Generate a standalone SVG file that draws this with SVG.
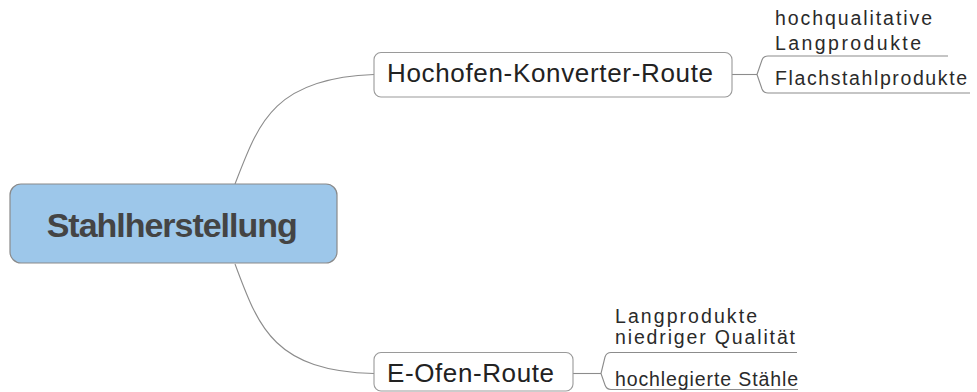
<svg xmlns="http://www.w3.org/2000/svg" width="977" height="392" viewBox="0 0 977 392">
<style>
  .conn { fill: none; stroke: #8c8c8c; stroke-width: 1.1; }
  .route { fill: #ffffff; stroke: #9a9a9a; stroke-width: 1.1; }
  .central { fill: #9dc7ea; stroke: #8a8a8a; stroke-width: 1.2; }
  .t-central { font-family: "Liberation Sans", Arial, sans-serif; font-size: 34px; font-weight: bold; fill: #444444; }
  .t-route { font-family: "Liberation Sans", Arial, sans-serif; font-size: 26px; fill: #222222; }
  .t-leaf { font-family: "Liberation Sans", Arial, sans-serif; font-size: 19.5px; fill: #2a2a2a; }
</style>
<rect width="977" height="392" fill="#ffffff"/>
<g id="connectors">
  <path class="conn" d="M235,184 C258,125 272,78 374,74.5"/>
  <path class="conn" d="M235,264 C258,325 272,371 374,373.5"/>
  <path class="conn" d="M732,74.5 L757,74.5"/>
  <path class="conn" d="M757,74.5 L762,60 Q763.5,56 768,56 L948,56"/>
  <path class="conn" d="M757,74.5 L762,89 Q763.5,93 768,93 L970,93"/>
  <path class="conn" d="M573,373.5 L601,373.5"/>
  <path class="conn" d="M601,373.5 L605,357 Q606.5,352.5 611,352.5 L797,352.5"/>
  <path class="conn" d="M601,373.5 L605,385 Q606.5,389.5 611,389.5 L798,389.5"/>
</g>
<g id="node-stahlherstellung">
  <rect class="central" x="10" y="184" width="327" height="79" rx="11" ry="11"/>
  <text class="t-central" x="46.7" y="236.5" textLength="251" lengthAdjust="spacing">Stahlherstellung</text>
</g>
<g id="node-hochofen">
  <rect class="route" x="374" y="52.5" width="358" height="44.5" rx="7" ry="7"/>
  <text class="t-route" x="387" y="82" textLength="326" lengthAdjust="spacing">Hochofen-Konverter-Route</text>
</g>
<g id="node-eofen">
  <rect class="route" x="374" y="352.5" width="199" height="38.5" rx="7" ry="7"/>
  <text class="t-route" x="387" y="382" textLength="167" lengthAdjust="spacing">E-Ofen-Route</text>
</g>
<g id="leaf-hochqualitative">
  <text class="t-leaf" x="775" y="24.5" textLength="157" lengthAdjust="spacing">hochqualitative</text>
  <text class="t-leaf" x="775" y="50" textLength="146" lengthAdjust="spacing">Langprodukte</text>
</g>
<g id="leaf-flachstahl">
  <text class="t-leaf" x="775" y="84.5" textLength="192" lengthAdjust="spacing">Flachstahlprodukte</text>
</g>
<g id="leaf-langprodukte-niedrig">
  <text class="t-leaf" x="615" y="323" textLength="142" lengthAdjust="spacing">Langprodukte</text>
  <text class="t-leaf" x="615" y="343.5" textLength="180" lengthAdjust="spacing">niedriger Qualität</text>
</g>
<g id="leaf-hochlegiert">
  <text class="t-leaf" x="615" y="385.5" textLength="183" lengthAdjust="spacing">hochlegierte Stähle</text>
</g>
</svg>
